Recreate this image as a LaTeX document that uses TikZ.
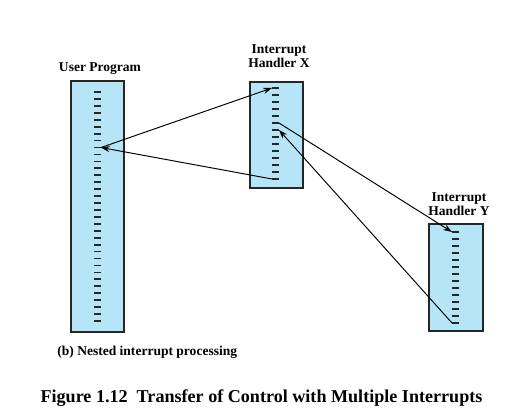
\documentclass[tikz,border=0pt]{standalone}
\usepackage{fontspec}
\setmainfont{Liberation Serif}
\usepackage{tikz}
\usetikzlibrary{positioning}
\usetikzlibrary{arrows.meta}
\definecolor{progblue}{RGB}{182,229,248}

\tikzset{
    prog/.style={draw=black!85, fill=progblue, line width=.7pt},
    instr/.style={line width=1pt, black!85},
    lbl/.style={font=\fontsize{7.7}{8}\selectfont\bfseries, align=center, inner sep=0pt},
    jump/.style={-{Stealth[length=5pt,width=3.5pt]}, line width=.55pt}
}

\begin{document}
\begin{tikzpicture}[x=0.02cm, y=-0.02cm]
        \useasboundingbox (0,0) rectangle (512,418);
        % the three programs
        \draw[prog] (71,81) rectangle (124,332);
        \draw[prog] (250,82) rectangle (303,188);
        \draw[prog] (429,224) rectangle (483,331);
        % instructions
        \foreach \i in {1,...,34}
        {
            \pgfmathsetmacro{\yy}{92+(\i-1)*6.94}
            \draw[instr] (94,\yy) -- (101,\yy);
            \coordinate (u\i) at (101,\yy);
        }
        \foreach \i in {1,...,14}
        {
            \pgfmathsetmacro{\yy}{88+(\i-1)*7}
            \draw[instr] (272,\yy) -- (279,\yy);
            \coordinate (xl\i) at (272,\yy);
            \coordinate (xr\i) at (279,\yy);
            \pgfmathsetmacro{\yy}{232+(\i-1)*7}
            \draw[instr] (452,\yy) -- (459,\yy);
            \coordinate (y\i) at (452,\yy);
        }
        % labels
        \node[lbl] (userlbl) at (100,69) {User Program};
        \node[lbl] (xlbl) at (279,56) {Interrupt\\Handler X};
        \node[lbl] (ylbl) at (459,204) {Interrupt\\Handler Y};
        \node[lbl, anchor=west] (caption) at (57,352) {(b) Nested interrupt processing};
        \node[font=\fontsize{10.3}{12}\selectfont\bfseries, inner sep=0pt] (title) at (261.5,398)
            {Figure 1.12\ \ Transfer of Control with Multiple Interrupts};
        % transfers of control
        \draw[jump] (u9) -- (xl1);
        \draw[jump] (xr6) -- (y1);
        \draw[jump] (y14) -- (xr7);
        \draw[jump] (xl14) -- (u9);
    \end{tikzpicture}
\end{document}
